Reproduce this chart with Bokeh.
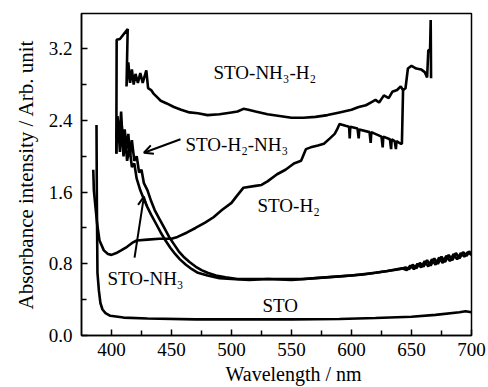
from bokeh.plotting import figure
from bokeh.models import Range1d, FixedTicker, Label, Arrow, OpenHead, NumeralTickFormatter, Title
from bokeh.embed import file_html
from bokeh.resources import INLINE

FONT = "Liberation Serif"

# ---------------- data (wavelength nm, absorbance) ----------------
sto_x = [387.5, 387.8, 388.3, 389.5, 390.8, 392.5, 395, 399, 410, 430, 470, 510, 550, 590, 620, 650, 670, 690, 695, 700]
sto_y = [2.35, 1.50, 0.70, 0.50, 0.36, 0.29, 0.25, 0.22, 0.20, 0.19, 0.18, 0.18, 0.18, 0.185, 0.195, 0.21, 0.23, 0.26, 0.27, 0.26]

sto_h2_x = [384.8, 385.3, 388, 390, 393.6, 397, 400, 404, 408, 413, 418, 421, 430, 440, 450, 455, 463, 470, 478, 485,
            492, 500, 504, 507, 510, 520, 525, 530, 538, 545, 552, 558, 562, 566, 572, 577, 582, 586, 588, 590,
            595, 598, 598.5, 599, 605, 606, 606.5, 615, 616, 616.5, 625, 626, 626.5, 632, 633, 633.5, 636, 637, 637.5,
            641, 642, 643]
sto_h2_y = [1.85, 1.62, 1.25, 1.06, 0.95, 0.91, 0.90, 0.92, 0.95, 0.99, 1.04, 1.06, 1.07, 1.08, 1.08, 1.10, 1.15, 1.20, 1.26, 1.32,
            1.40, 1.48, 1.55, 1.60, 1.65, 1.67, 1.68, 1.72, 1.80, 1.85, 1.92, 1.95, 2.08, 2.10, 2.12, 2.14, 2.20, 2.25, 2.30, 2.36,
            2.34, 2.33, 2.20, 2.33, 2.31, 2.20, 2.30, 2.27, 2.15, 2.27, 2.22, 2.10, 2.22, 2.19, 2.08, 2.19, 2.17, 2.08, 2.17,
            2.14, 2.14, 2.76]

sto_nh3_h2_x = [404, 404.3, 407, 413.5, 412.5, 414, 415.5, 417, 418.5, 420, 422, 424, 426, 429, 430.5, 433, 435, 438, 441,
                446, 452, 458, 465, 472, 480, 490, 500, 505, 510, 514, 520, 530, 540, 550, 560, 570, 580, 590, 600,
                606, 612, 616, 620, 623, 627, 631, 634, 638, 641, 643, 645, 647, 650, 654, 658, 661, 663, 664, 665.5,
                666, 666.3]
sto_nh3_h2_y = [2.03, 3.30, 3.31, 3.42, 2.78, 3.05, 2.82, 2.97, 2.80, 2.92, 2.82, 2.93, 2.82, 2.96, 2.76, 2.74, 2.70, 2.66, 2.62,
                2.59, 2.55, 2.52, 2.49, 2.48, 2.46, 2.47, 2.49, 2.50, 2.53, 2.52, 2.50, 2.47, 2.45, 2.43, 2.43, 2.44, 2.46, 2.49, 2.52,
                2.55, 2.57, 2.60, 2.63, 2.60, 2.68, 2.65, 2.72, 2.74, 2.78, 2.74, 2.76, 2.98, 3.01, 2.98, 2.97, 2.94, 2.88, 3.18, 3.20,
                3.52, 2.87]

sto_h2_nh3_x = [404, 405, 406.5, 408, 409.5, 411, 412.5, 414, 415.5, 417, 419, 421, 423, 425, 427, 430, 433, 436, 440, 444,
                448, 452, 456, 460, 465, 470, 475, 480, 487, 495, 505, 520, 540, 560, 580, 600, 620, 640, 645, 648,
                651, 654, 657, 660, 663, 666, 669, 672, 675, 678, 681, 684, 687, 690, 693, 696, 698, 700]
sto_h2_nh3_y = [2.03, 2.45, 2.15, 2.50, 2.12, 2.30, 2.08, 2.25, 2.02, 2.18, 1.95, 2.00, 1.82, 1.85, 1.70, 1.62, 1.50, 1.40, 1.30, 1.20,
                1.10, 1.02, 0.94, 0.88, 0.82, 0.77, 0.73, 0.70, 0.67, 0.65, 0.63, 0.63, 0.63, 0.63, 0.65, 0.67, 0.70, 0.74, 0.76, 0.74,
                0.79, 0.75, 0.81, 0.77, 0.84, 0.78, 0.86, 0.80, 0.88, 0.82, 0.90, 0.84, 0.92, 0.86, 0.93, 0.89, 0.94, 0.91]

sto_nh3_x = [404, 405.5, 407, 408.5, 410, 411.5, 413, 415, 417, 419, 421, 424, 427, 430, 433, 437, 441, 445, 449, 453,
             457, 462, 467, 472, 480, 490, 500, 515, 530, 550, 570, 590, 610, 630, 642, 646, 649, 652, 655, 658,
             661, 664, 667, 670, 673, 676, 679, 682, 685, 688, 691, 694, 697, 700]
sto_nh3_y = [2.20, 2.40, 2.05, 2.35, 2.00, 2.20, 1.95, 2.10, 1.88, 1.92, 1.75, 1.62, 1.52, 1.43, 1.35, 1.25, 1.15, 1.06, 0.98, 0.91,
             0.85, 0.79, 0.74, 0.70, 0.67, 0.64, 0.63, 0.62, 0.63, 0.62, 0.64, 0.66, 0.68, 0.72, 0.75, 0.73, 0.78, 0.74, 0.80, 0.76,
             0.83, 0.77, 0.85, 0.79, 0.87, 0.81, 0.89, 0.83, 0.91, 0.85, 0.92, 0.88, 0.93, 0.90]

x_major = [400, 450, 500, 550, 600, 650, 700]
x_minor = [425, 475, 525, 575, 625, 675]
y_major = [0.0, 0.8, 1.6, 2.4, 3.2]
y_minor = [0.4, 1.2, 2.0, 2.8]

# ---------------- figure ----------------
p = figure(frame_width=390, frame_height=322, output_backend="svg", toolbar_location=None,
           x_range=Range1d(375, 700), y_range=Range1d(0, 3.594),
           min_border_left=81, min_border_right=17, min_border_top=13, min_border_bottom=0)
p.background_fill_color = "white"
p.border_fill_color = "white"
p.grid.visible = False
p.outline_line_color = "black"
p.outline_line_width = 1.5

for ax in (p.xaxis[0], p.yaxis[0]):
    ax.axis_line_width = 1.5
    ax.major_tick_in = 6
    ax.major_tick_out = 0
    ax.minor_tick_in = 5
    ax.minor_tick_out = 0
    ax.major_tick_line_width = 1.5
    ax.minor_tick_line_width = 1.5
    ax.major_label_text_font = FONT
    ax.major_label_text_font_size = "19px"
    ax.major_label_text_color = "black"
    ax.axis_label_text_font = FONT
    ax.axis_label_text_font_style = "normal"
    ax.axis_label_text_font_size = "21px"
    ax.axis_label_text_color = "black"

p.xaxis[0].ticker = FixedTicker(ticks=x_major, minor_ticks=x_minor)
p.yaxis[0].ticker = FixedTicker(ticks=y_major, minor_ticks=y_minor)
p.yaxis[0].formatter = NumeralTickFormatter(format="0.0")
p.xaxis[0].major_label_standoff = 7
p.yaxis[0].major_label_standoff = 9
p.yaxis[0].axis_label = "Absorbance intensity / Arb. unit"
p.yaxis[0].axis_label_standoff = 8

# curves
for xs, ys in [(sto_x, sto_y), (sto_h2_x, sto_h2_y), (sto_nh3_h2_x, sto_nh3_h2_y),
               (sto_h2_nh3_x, sto_h2_nh3_y), (sto_nh3_x, sto_nh3_y)]:
    p.line(xs, ys, line_color="black", line_width=2.6)

# x-axis title as a title below the axis, shifted right like the reference
p.add_layout(Title(text="Wavelength / nm", align="left", offset=144, standoff=4,
                   text_font=FONT, text_font_size="20px", text_font_style="normal",
                   text_color="black"), "below")

# curve labels
labels = [
    (485.0, 2.93, "STO-NH₃-H₂"),
    (461.7, 2.13, "STO-H₂-NH₃"),
    (521.7, 1.45, "STO-H₂"),
    (525.8, 0.335, "STO"),
    (396.7, 0.635, "STO-NH₃"),
]
for lx, ly, lt in labels:
    p.add_layout(Label(x=lx, y=ly, text=lt, text_align="left", text_baseline="alphabetic",
                       text_font=FONT, text_font_size="19px", text_color="black"))

# arrows
p.add_layout(Arrow(end=OpenHead(size=9, line_width=2), x_start=457.5, y_start=2.19, x_end=427.0, y_end=2.04,
                   line_width=2))
p.add_layout(Arrow(end=OpenHead(size=9, line_width=2), x_start=419.2, y_start=0.87, x_end=427.0, y_end=1.55,
                   line_width=2))

open("out.html", "w").write(file_html(p, INLINE))
